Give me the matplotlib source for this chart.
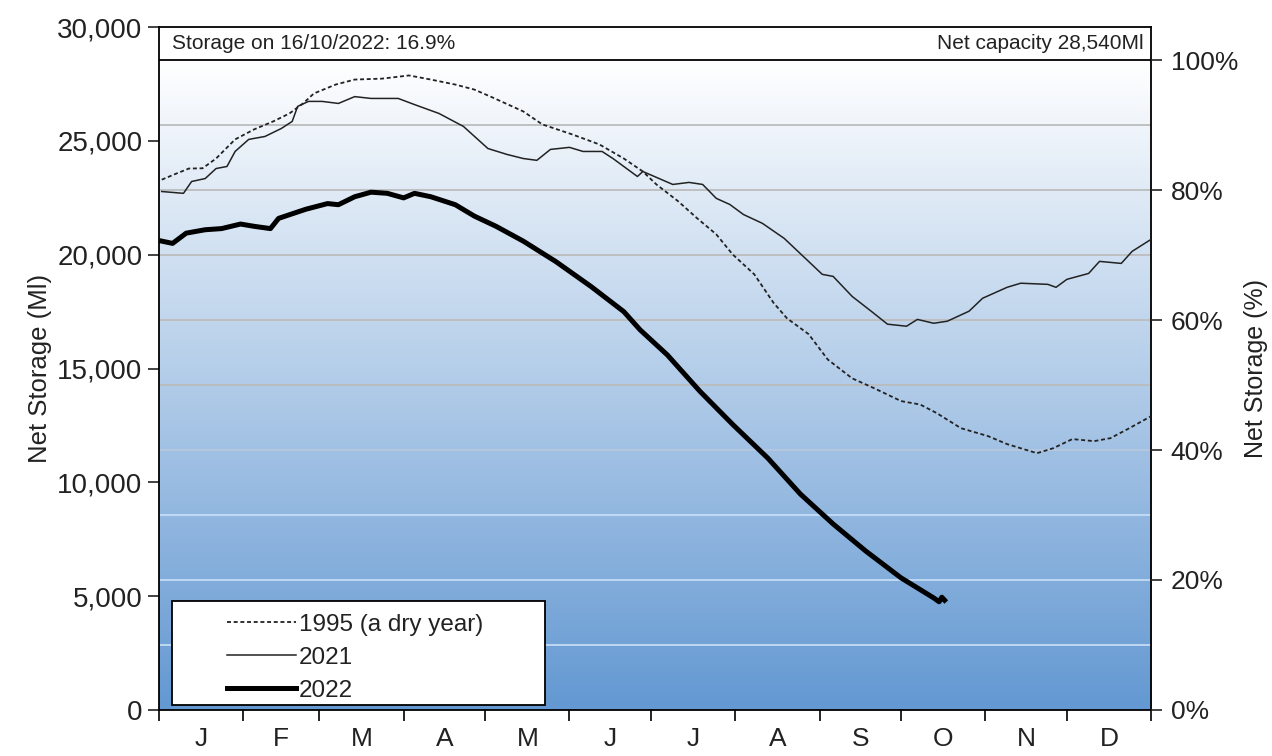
import numpy as np
import matplotlib
matplotlib.use("Agg")
import matplotlib.pyplot as plt
from matplotlib.colors import LinearSegmentedColormap
from matplotlib.patches import Rectangle
import matplotlib.transforms as mtransforms

plt.rcParams['font.family'] = ['Liberation Sans', 'DejaVu Sans']

# net capacity of the reservoir (Ml)
capacity = 28540

# day of year / net storage (Ml)
days_1995 = [1, 6, 11, 16, 21, 28, 35, 42, 48, 53, 57, 65, 72, 82, 92, 100, 109, 116, 122,
             134, 141, 152, 162, 171, 178, 183, 191, 198, 205, 211, 219, 226, 231, 239, 246,
             255, 263, 273, 280, 286, 295, 305, 312, 323, 329, 336, 344, 350, 357, 365]
vals_1995 = [23300, 23550, 23790, 23800, 24230, 25070, 25510, 25860, 26210, 26650, 27090,
             27480, 27700, 27740, 27880, 27700, 27480, 27260, 26950,
             26300, 25730, 25290, 24850, 24230, 23660, 23090, 22350, 21600, 20900, 20020,
             19140, 17900, 17210, 16510, 15400, 14570, 14140, 13570, 13420, 13050, 12380,
             12030, 11680, 11280, 11500, 11900, 11810, 11940, 12380, 12910]

days_2021 = [1, 9, 12, 17, 21, 25, 28, 33, 39, 45, 49, 51, 55, 60, 66, 72, 78, 88, 94, 103,
             112, 121, 128, 134, 139, 144, 151, 156, 163, 167, 176, 178, 189, 195, 200, 205,
             210, 215, 222, 230, 237, 244, 248, 255, 262, 268, 275, 279, 285, 290, 298, 303,
             312, 317, 327, 330, 334, 342, 346, 354, 358, 365]
vals_2021 = [22780, 22700, 23220, 23350, 23790, 23880, 24540, 25070, 25200, 25550, 25860,
             26520, 26740, 26740, 26650, 26950, 26870, 26870, 26600, 26210,
             25640, 24670, 24410, 24230, 24150, 24630, 24720, 24540, 24540, 24230, 23440,
             23660, 23090, 23180, 23090, 22480, 22210, 21770, 21380, 20720, 19930, 19140,
             19050, 18170, 17520, 16950, 16860, 17160, 16990, 17080, 17520, 18090,
             18570, 18750, 18700, 18570, 18920, 19180, 19710, 19620, 20150, 20680]

days_2022 = [1, 5, 10, 17, 23, 30, 35, 41, 44, 54, 62, 66, 72, 78, 84, 90, 94, 100, 109,
             116, 124, 134, 146, 159, 171, 177, 187, 199, 211, 224, 236, 248, 260, 273,
             285, 287, 288, 289]
vals_2022 = [20600, 20500, 20950, 21100, 21150, 21350, 21250, 21150, 21600, 22000, 22250,
             22200, 22550, 22750, 22700, 22500, 22700, 22550, 22200,
             21700, 21250, 20600, 19700, 18600, 17500, 16700, 15600, 14000, 12550, 11060,
             9480, 8170, 6980, 5800, 4920, 4750, 4950, 4820]

month_starts = [0, 31, 59, 90, 120, 151, 181, 212, 243, 273, 304, 334, 365]
month_labels = ['J', 'F', 'M', 'A', 'M', 'J', 'J', 'A', 'S', 'O', 'N', 'D']

fig = plt.figure(figsize=(12.72, 7.56), dpi=100)
ax = fig.add_axes([0.125, 0.061, 0.78, 0.903])
ax.set_xlim(0, 365)
ax.set_ylim(0, 30000)

# background gradient, blue at the bottom to white at capacity
cmap = LinearSegmentedColormap.from_list('bg', ['#6398d2', '#ffffff'])
grad = np.linspace(0, 1, 256).reshape(-1, 1)
ax.imshow(grad, cmap=cmap, origin='lower', aspect='auto',
          extent=[0, 365, 0, capacity], zorder=0)

# band above capacity with the notes
ax.add_patch(Rectangle((0, capacity), 365, 30000 - capacity, facecolor='white',
                       edgecolor='none', zorder=0))
ax.axhline(capacity, color='black', lw=1.3, zorder=3)

# gridlines every 10% of capacity
for k in range(1, 10):
    frac = k / 10
    if frac >= 0.5:
        c = '#bcbcbc'
    elif frac == 0.4:
        c = '#b8c8de'
    else:
        c = '#c4dcf6'
    ax.axhline(capacity * frac, color=c, lw=1.3, zorder=1)

ax.plot(days_1995, vals_1995, color='#222222', lw=1.3, ls=(0, (2.2, 1.5)),
        label='1995 (a dry year)', zorder=4)
ax.plot(days_2021, vals_2021, color='#222222', lw=1.1, label='2021', zorder=4)
ax.plot(days_2022, vals_2022, color='black', lw=3.6, label='2022', zorder=5)

# left axis
ax.set_yticks(range(0, 30001, 5000))
ax.set_yticklabels([f'{v:,}' for v in range(0, 30001, 5000)])
ax.set_ylabel('Net Storage (Ml)', fontsize=18.5, color='#222222', labelpad=4)
ax.tick_params(axis='y', direction='out', length=8, width=1.2, labelsize=20,
               colors='#222222', pad=4)

# months
ax.set_xticks(month_starts)
ax.set_xticklabels([])
mids = [(month_starts[i] + month_starts[i + 1]) / 2 for i in range(12)]
ax.set_xticks(mids, minor=True)
ax.set_xticklabels(month_labels, minor=True)
ax.tick_params(axis='x', which='major', direction='out', length=8, width=1.2)
ax.tick_params(axis='x', which='minor', length=0, labelsize=19, colors='#222222', pad=12)

for s in ax.spines.values():
    s.set_color('black')
    s.set_linewidth(1.3)

# right axis in percent of capacity
ax2 = ax.twinx()
ax2.set_ylim(0, 30000 / capacity * 100)
ax2.set_yticks(range(0, 101, 20))
ax2.set_yticklabels([f'{v}%' for v in range(0, 101, 20)])
ax2.tick_params(axis='y', direction='out', length=8, width=1.2, labelsize=19,
                colors='#222222', pad=6)
ax2.set_ylabel('Net Storage (%)', fontsize=18, color='#222222', labelpad=4)
for s in ax2.spines.values():
    s.set_visible(False)

# notes in the top band
trans = mtransforms.blended_transform_factory(ax.transAxes, ax.transData)
mid_band = (capacity + 30000) / 2
ax.text(0.013, mid_band, 'Storage on 16/10/2022: 16.9%', transform=trans,
        ha='left', va='center', fontsize=15, color='#222222')
ax.text(0.992, mid_band, 'Net capacity 28,540Ml', transform=trans,
        ha='right', va='center', fontsize=15, color='#222222')

# legend box
ax.add_patch(Rectangle((0.013, 0.007), 0.376, 0.153, transform=ax.transAxes,
                       facecolor='white', edgecolor='black', lw=1.3, zorder=6))
leg = ax.legend(loc='lower left', bbox_to_anchor=(0.069, 0.012), frameon=False,
                fontsize=17.5, handlelength=2.8, handletextpad=0.15, labelspacing=0.45,
                borderpad=0, borderaxespad=0)
leg.set_zorder(7)
for t in leg.get_texts():
    t.set_color('#222222')

fig.savefig('out.png', dpi=100)
